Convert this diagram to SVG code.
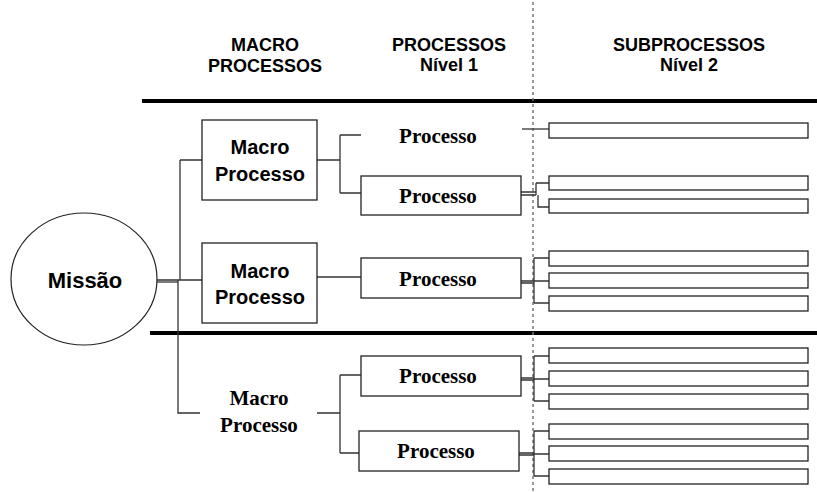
<svg xmlns="http://www.w3.org/2000/svg" width="817" height="492" viewBox="0 0 817 492">
<style>
.hdr{font-family:"Liberation Sans",Arial,sans-serif;font-weight:bold;font-size:18px;fill:#000;text-anchor:middle}
.mac{font-family:"Liberation Sans",Arial,sans-serif;font-weight:bold;font-size:20px;fill:#000;text-anchor:middle}
.ser{font-family:"Liberation Serif","Times New Roman",serif;font-weight:bold;font-size:21px;fill:#000;text-anchor:middle}
.box{fill:#fff;stroke:#222;stroke-width:1.3}
.sub{fill:#fff;stroke:#222;stroke-width:1.3}
.ln{fill:none;stroke:#333;stroke-width:1.3}
.thick{stroke:#000;stroke-width:4}
</style>

<g id="headers">
<text class="hdr" x="265" y="51">MACRO</text>
<text class="hdr" x="265" y="72">PROCESSOS</text>
<text class="hdr" x="449" y="51">PROCESSOS</text>
<text class="hdr" x="449" y="71">Nível 1</text>
<text class="hdr" x="689" y="51">SUBPROCESSOS</text>
<text class="hdr" x="689" y="71">Nível 2</text>
</g>

<g id="separators">
<line class="thick" x1="142" y1="101" x2="817" y2="101"/>
<line class="thick" x1="150" y1="333" x2="817" y2="333"/>
<line x1="533" y1="2" x2="533" y2="492" stroke="#777" stroke-width="1.5" stroke-dasharray="3,3"/>
</g>

<g id="connectors">
<!-- Missão to macro -->
<path class="ln" d="M157 280 H180 M180 160 V280 M180 160 H202 M180 280 H202 M178 280 V413 H200"/>
<path class="ln" d="M157 282 H178" stroke="#888"/>
<!-- macro 1 to processes -->
<path class="ln" d="M317 160 H340 M340 135 V193 M340 135 H361 M340 193 H361"/>
<!-- macro 2 to process -->
<path class="ln" d="M317 277 H361"/>
<!-- macro 3 to processes -->
<path class="ln" d="M317 413 H340 M340 375 V453 M340 375 H361 M340 453 H359"/>
<!-- top stub -->
<path class="ln" d="M522 129 H553"/>
<!-- process 1 to subs -->
<path class="ln" d="M521 192 H536 M521 195 H536 M536 183 V195 M536 183 H549 M538 195 V207 H553"/>
<!-- process 2 to subs -->
<path class="ln" d="M521 281 H534 M521 283 H534 M534 258 V303 M534 258 H549 M534 281 H549 M534 303 H549"/>
<!-- process 3 to subs -->
<path class="ln" d="M521 378 H534 M521 380 H534 M534 356 V401 M534 356 H549 M534 379 H549 M534 401 H549"/>
<!-- process 4 to subs -->
<path class="ln" d="M519 453 H534 M519 455 H534 M534 431 V476 M534 431 H549 M534 454 H549 M534 476 H549"/>
</g>

<g id="missao">
<ellipse cx="84" cy="279" rx="73" ry="66" fill="#fff" stroke="#222" stroke-width="1.2"/>
<text x="85" y="288" font-family="Liberation Sans, Arial, sans-serif" font-weight="bold" font-size="22" text-anchor="middle">Missão</text>
</g>

<g id="macro1">
<rect class="box" x="202" y="120" width="115" height="80"/>
<text class="mac" x="260" y="154">Macro</text>
<text class="mac" x="260" y="181">Processo</text>
</g>
<g id="macro2">
<rect class="box" x="202" y="243" width="115" height="80"/>
<text class="mac" x="260" y="278">Macro</text>
<text class="mac" x="260" y="304">Processo</text>
</g>
<g id="macro3">
<text class="ser" x="259" y="405">Macro</text>
<text class="ser" x="259" y="432">Processo</text>
</g>

<g id="proc0">
<text class="ser" x="438" y="143">Processo</text>
</g>
<g id="proc1">
<rect class="box" x="361" y="176" width="160" height="39"/>
<text class="ser" x="438" y="203">Processo</text>
</g>
<g id="proc2">
<rect class="box" x="361" y="258" width="160" height="40"/>
<text class="ser" x="438" y="286">Processo</text>
</g>
<g id="proc3">
<rect class="box" x="361" y="356" width="160" height="40"/>
<text class="ser" x="438" y="383">Processo</text>
</g>
<g id="proc4">
<rect class="box" x="359" y="431" width="160" height="40"/>
<text class="ser" x="436" y="458">Processo</text>
</g>

<g id="subs">
<rect class="sub" x="549" y="123" width="259" height="15"/>
<rect class="sub" x="549" y="176" width="259" height="14"/>
<rect class="sub" x="549" y="199" width="259" height="14"/>
<rect class="sub" x="549" y="251" width="259" height="15"/>
<rect class="sub" x="549" y="273" width="259" height="15"/>
<rect class="sub" x="549" y="296" width="259" height="15"/>
<rect class="sub" x="549" y="348" width="259" height="15"/>
<rect class="sub" x="549" y="371" width="259" height="15"/>
<rect class="sub" x="549" y="394" width="259" height="15"/>
<rect class="sub" x="549" y="424" width="259" height="15"/>
<rect class="sub" x="549" y="446" width="259" height="15"/>
<rect class="sub" x="549" y="469" width="259" height="15"/>
</g>
</svg>
